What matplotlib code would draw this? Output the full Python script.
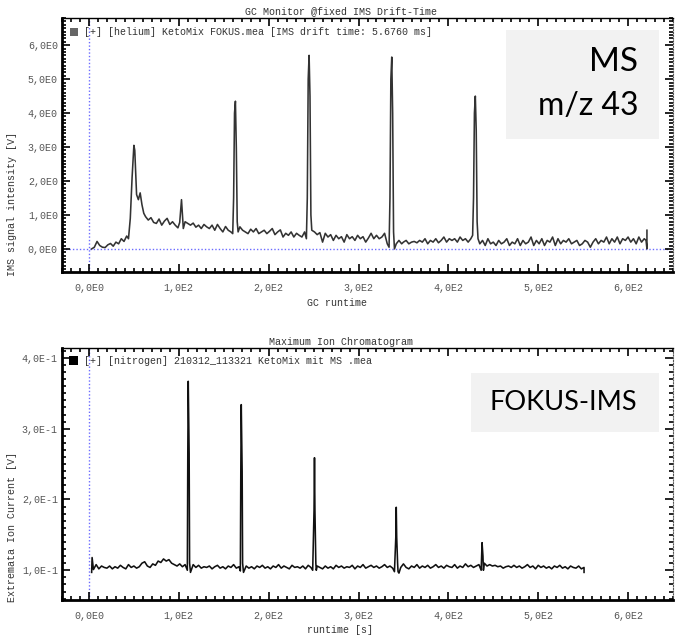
import numpy as np
import matplotlib
matplotlib.use("Agg")
from matplotlib import pyplot as plt
from matplotlib.patches import Rectangle
from matplotlib.ticker import FixedLocator, FixedFormatter, MultipleLocator

# --- top panel: GC monitor (MS m/z 43) ---
gc_time = [3, 6, 9, 12, 15, 18, 21, 24, 27, 30, 33, 36, 39, 42, 44, 46, 48, 50, 51, 53,
           55, 57, 59, 61, 63, 66, 69, 72, 75, 78, 81, 84, 87, 90, 93, 96, 99, 101, 103, 105,
           107, 110, 113, 116, 119, 122, 125, 128, 131, 134, 137, 140, 143, 146, 149, 152, 155, 158, 160, 161,
           162, 163, 164, 165, 166, 168, 171, 174, 177, 180, 183, 186, 189, 192, 195, 198, 201, 204, 207, 210,
           213, 216, 219, 222, 225, 228, 231, 234, 237, 240, 242, 243, 244, 245, 246, 247, 248, 251, 254, 257,
           260, 263, 266, 269, 272, 275, 278, 281, 284, 287, 290, 293, 296, 299, 302, 305, 308, 311, 314, 317,
           320, 323, 326, 329, 332, 334, 335, 336, 337, 338, 339, 340, 342, 345, 348, 350, 353, 356, 359, 362,
           365, 368, 371, 374, 377, 380, 383, 386, 389, 392, 395, 398, 401, 404, 407, 410, 413, 416, 419, 422,
           425, 427, 428, 429, 430, 431, 432, 433, 435, 438, 441, 444, 447, 450, 453, 456, 459, 462, 465, 468,
           471, 474, 477, 480, 483, 486, 489, 492, 495, 498, 501, 504, 507, 510, 513, 516, 519, 522, 525, 528,
           531, 534, 537, 540, 543, 546, 549, 552, 555, 558, 561, 564, 567, 570, 573, 576, 579, 582, 585, 588,
           591, 594, 597, 600, 603, 606, 609, 612, 615, 618, 620, 621, 621]
gc_signal = [0.0, 0.05, 0.22, 0.1, 0.05, 0.04, 0.12, 0.16, 0.08, 0.2, 0.15, 0.3, 0.22, 0.38, 0.3, 0.9, 2.1, 3.05, 2.9, 1.6,
             1.45, 1.65, 1.3, 1.05, 0.95, 0.85, 0.92, 0.78, 0.75, 0.88, 0.7, 0.82, 0.9, 0.72, 0.8, 0.7, 0.62, 0.78, 1.45, 0.6,
             0.8, 0.75, 0.7, 0.76, 0.64, 0.7, 0.6, 0.72, 0.65, 0.6, 0.7, 0.55, 0.72, 0.6, 0.5, 0.66, 0.55, 0.5, 0.45, 1.5,
             4.0, 4.35, 3.0, 0.8, 0.5, 0.65, 0.55, 0.5, 0.45, 0.58, 0.5, 0.6, 0.45, 0.5, 0.55, 0.45, 0.52, 0.6, 0.42, 0.5,
             0.56, 0.35, 0.46, 0.4, 0.5, 0.35, 0.46, 0.4, 0.35, 0.5, 0.3, 1.5, 5.0, 5.7, 4.5, 1.0, 0.55, 0.5, 0.42, 0.48,
             0.2, 0.46, 0.35, 0.42, 0.25, 0.4, 0.3, 0.36, 0.2, 0.42, 0.3, 0.36, 0.25, 0.4, 0.3, 0.36, 0.2, 0.32, 0.46, 0.3,
             0.4, 0.3, 0.35, 0.46, 0.15, 0.05, 1.5, 5.0, 5.65, 4.0, 0.5, 0.0, 0.15, 0.25, 0.15, 0.2, 0.25, 0.15, 0.2, 0.22,
             0.18, 0.25, 0.2, 0.3, 0.15, 0.25, 0.2, 0.3, 0.18, 0.25, 0.35, 0.2, 0.3, 0.25, 0.3, 0.2, 0.35, 0.25, 0.3, 0.2,
             0.3, 0.4, 1.5, 4.0, 4.5, 3.5, 0.8, 0.3, 0.15, 0.25, 0.1, 0.3, 0.15, 0.2, 0.1, 0.25, 0.15, 0.2, 0.3, 0.1,
             0.2, 0.15, 0.3, 0.1, 0.25, 0.15, 0.2, 0.35, 0.1, 0.25, 0.15, 0.3, 0.1, 0.25, 0.2, 0.35, 0.1, 0.3, 0.15, 0.25,
             0.2, 0.3, 0.15, 0.2, 0.25, 0.1, 0.15, 0.25, 0.2, 0.05, 0.2, 0.3, 0.15, 0.25, 0.2, 0.35, 0.15, 0.3, 0.2, 0.35,
             0.15, 0.3, 0.25, 0.35, 0.2, 0.3, 0.15, 0.35, 0.2, 0.3, 0.25, 0.0, 0.55]

# --- bottom panel: FOKUS-IMS maximum ion chromatogram ---
ims_time = [3, 3.5, 5, 8, 11, 14, 17, 20, 23, 26, 29, 32, 35, 38, 41, 44, 47, 50, 53, 56,
            59, 62, 65, 68, 71, 74, 77, 80, 83, 86, 89, 92, 95, 98, 101, 104, 107, 109.5, 110, 110.5,
            111.5, 112, 113, 116, 119, 122, 125, 128, 131, 134, 137, 140, 143, 146, 149, 152, 155, 158, 161, 164,
            167, 168.5, 169, 169.5, 170.5, 171, 172, 175, 178, 181, 184, 187, 190, 193, 196, 199, 202, 205, 208, 211,
            214, 217, 220, 223, 226, 229, 232, 235, 238, 241, 244, 247, 249, 250.5, 251, 251.5, 252.5, 253, 254, 257,
            260, 263, 266, 269, 272, 275, 278, 281, 284, 287, 290, 293, 296, 299, 302, 305, 308, 311, 314, 317,
            320, 323, 326, 329, 332, 335, 338, 340, 341.5, 342, 342.5, 343.5, 344, 345, 347, 350, 353, 356, 359, 362,
            365, 368, 371, 374, 377, 380, 383, 386, 389, 392, 395, 398, 401, 404, 407, 410, 413, 416, 419, 422,
            425, 428, 431, 434, 436.5, 437, 437.5, 438.5, 439, 440, 443, 446, 449, 452, 455, 458, 461, 464, 467, 470,
            473, 476, 479, 482, 485, 488, 491, 494, 497, 500, 503, 506, 509, 512, 515, 518, 521, 524, 527, 530,
            533, 536, 539, 542, 545, 548, 551, 551]
ims_current = [0.097, 0.118, 0.101, 0.108, 0.102, 0.106, 0.104, 0.103, 0.106, 0.102, 0.105, 0.103, 0.107, 0.104, 0.102, 0.108, 0.104, 0.106, 0.103, 0.105,
               0.110, 0.112, 0.106, 0.104, 0.109, 0.107, 0.113, 0.111, 0.116, 0.113, 0.115, 0.110, 0.108, 0.106, 0.109, 0.105, 0.108, 0.100, 0.265, 0.367,
               0.265, 0.110, 0.097, 0.108, 0.104, 0.107, 0.103, 0.105, 0.104, 0.106, 0.102, 0.105, 0.107, 0.103, 0.105, 0.102, 0.106, 0.104, 0.108, 0.103,
               0.105, 0.099, 0.240, 0.334, 0.240, 0.110, 0.097, 0.106, 0.103, 0.105, 0.102, 0.106, 0.104, 0.107, 0.103, 0.105, 0.102, 0.106, 0.104, 0.108,
               0.103, 0.106, 0.104, 0.102, 0.107, 0.104, 0.105, 0.103, 0.106, 0.102, 0.107, 0.104, 0.100, 0.185, 0.259, 0.185, 0.110, 0.100, 0.106, 0.104,
               0.102, 0.106, 0.103, 0.105, 0.102, 0.107, 0.104, 0.106, 0.103, 0.105, 0.104, 0.107, 0.102, 0.106, 0.104, 0.108, 0.103, 0.105, 0.107, 0.104,
               0.106, 0.103, 0.105, 0.108, 0.104, 0.106, 0.103, 0.098, 0.147, 0.189, 0.147, 0.110, 0.098, 0.096, 0.104, 0.109, 0.104, 0.102, 0.106, 0.104,
               0.108, 0.103, 0.106, 0.104, 0.107, 0.103, 0.105, 0.108, 0.104, 0.106, 0.103, 0.107, 0.105, 0.104, 0.108, 0.103, 0.106, 0.104, 0.109, 0.105,
               0.107, 0.104, 0.106, 0.108, 0.100, 0.120, 0.139, 0.120, 0.100, 0.110, 0.106, 0.108, 0.106, 0.107, 0.105, 0.106, 0.103, 0.105, 0.106, 0.104,
               0.107, 0.104, 0.106, 0.103, 0.105, 0.108, 0.104, 0.106, 0.102, 0.107, 0.104, 0.106, 0.103, 0.105, 0.102, 0.106, 0.104, 0.107, 0.103, 0.105,
               0.102, 0.106, 0.104, 0.103, 0.106, 0.102, 0.104, 0.097]

xtick_vals = [0, 100, 200, 300, 400, 500, 600]
xtick_labels = ["0,0E0", "1,0E2", "2,0E2", "3,0E2", "4,0E2", "5,0E2", "6,0E2"]
ytop_vals = [0, 1, 2, 3, 4, 5, 6]
ytop_labels = ["0,0E0", "1,0E0", "2,0E0", "3,0E0", "4,0E0", "5,0E0", "6,0E0"]
ybot_vals = [0.1, 0.2, 0.3, 0.4]
ybot_labels = ["1,0E-1", "2,0E-1", "3,0E-1", "4,0E-1"]

MONO = "Liberation Mono"
W, H = 675, 635


def fx(px):
    return px / W


def fy(py):
    return 1 - py / H


def style_axes(ax, yvals, ylabels, yminor):
    ax.set_xlim(-30, 650)
    ax.xaxis.set_major_locator(FixedLocator(xtick_vals))
    ax.xaxis.set_major_formatter(FixedFormatter(xtick_labels))
    ax.xaxis.set_minor_locator(MultipleLocator(10))
    ax.yaxis.set_major_locator(FixedLocator(yvals))
    ax.yaxis.set_major_formatter(FixedFormatter(ylabels))
    ax.yaxis.set_minor_locator(MultipleLocator(yminor))
    ax.tick_params(which="both", direction="in", top=True, right=True,
                   width=1.2, color="black")
    ax.tick_params(which="major", length=6)
    ax.tick_params(which="minor", length=3)
    ax.tick_params(axis="x", which="major", pad=8, labelsize=7.2, labelcolor="#555555")
    ax.tick_params(axis="y", which="major", pad=3, labelsize=7.2, labelcolor="#555555")
    for lab in ax.get_xticklabels() + ax.get_yticklabels():
        lab.set_family(MONO)
    ax.spines["left"].set_linewidth(2)
    ax.spines["bottom"].set_linewidth(2)
    ax.spines["top"].set_linewidth(1)
    ax.spines["right"].set_linestyle((0, (1, 1.5)))
    ax.spines["right"].set_color("#555555")
    ax.spines["right"].set_linewidth(0.8)
    ax.axvline(0, color="#6b6bff", ls=(0, (1, 1.5)), lw=1, zorder=1)


fig = plt.figure(figsize=(6.75, 6.35), dpi=100)

ax1 = fig.add_axes([fx(62), fy(272), fx(673) - fx(62), fy(18) - fy(272)])
ax1.plot(gc_time, gc_signal, color="#333333", lw=1.15, zorder=3)
ax1.axhline(0, color="#6b6bff", ls=(0, (1, 1.5)), lw=1, zorder=1)
ax1.set_ylim(-0.68, 6.8)
style_axes(ax1, ytop_vals, ytop_labels, 0.1)

ax2 = fig.add_axes([fx(62), fy(600), fx(673) - fx(62), fy(348) - fy(600)])
ax2.plot(ims_time, ims_current, color="#111111", lw=1.15, zorder=3)
ax2.set_ylim(0.058, 0.414)
style_axes(ax2, ybot_vals, ybot_labels, 0.01)

# titles, axis labels, legend lines (monospace, as in the instrument software)
txt = dict(family=MONO, fontsize=7.2, color="#333333")
fig.text(fx(341), fy(11), "GC Monitor @fixed IMS Drift-Time", ha="center", va="center", **txt)
fig.text(fx(341), fy(342), "Maximum Ion Chromatogram", ha="center", va="center", **txt)
fig.text(fx(337), fy(303), "GC runtime", ha="center", va="center", **txt)
fig.text(fx(340), fy(630), "runtime [s]", ha="center", va="center", **txt)
fig.text(fx(12), fy(204), "IMS signal intensity [V]", rotation=90, ha="center", va="center", **txt)
fig.text(fx(12), fy(527), "Extremata Ion Current [V]", rotation=90, ha="center", va="center", **txt)

fig.patches.append(Rectangle((fx(70), fy(36)), fx(8), fy(28) - fy(36), transform=fig.transFigure,
                             facecolor="#666666", edgecolor="none", figure=fig))
fig.text(fx(84), fy(32), "[+] [helium] KetoMix FOKUS.mea [IMS drift time: 5.6760 ms]",
         ha="left", va="center", **txt)
fig.patches.append(Rectangle((fx(69), fy(365)), fx(9), fy(356) - fy(365), transform=fig.transFigure,
                             facecolor="black", edgecolor="none", figure=fig))
fig.text(fx(84), fy(361), "[+] [nitrogen] 210312_113321 KetoMix mit MS .mea",
         ha="left", va="center", **txt)

# grey annotation boxes
fig.patches.append(Rectangle((fx(506), fy(139)), fx(659) - fx(506), fy(30) - fy(139),
                             transform=fig.transFigure, facecolor="#f2f2f2", edgecolor="none",
                             figure=fig, zorder=5))
fig.text(fx(638), fy(62), "MS", ha="right", va="center", family="Lato", fontsize=24, zorder=6)
fig.text(fx(638), fy(106), "m/z 43", ha="right", va="center", family="Lato", fontsize=23, zorder=6)
fig.patches.append(Rectangle((fx(471), fy(432)), fx(659) - fx(471), fy(373) - fy(432),
                             transform=fig.transFigure, facecolor="#f2f2f2", edgecolor="none",
                             figure=fig, zorder=5))
fig.text(fx(563), fy(403), "FOKUS-IMS", ha="center", va="center", family="Lato", fontsize=19.5, zorder=6)

fig.savefig("out.png", dpi=100)
